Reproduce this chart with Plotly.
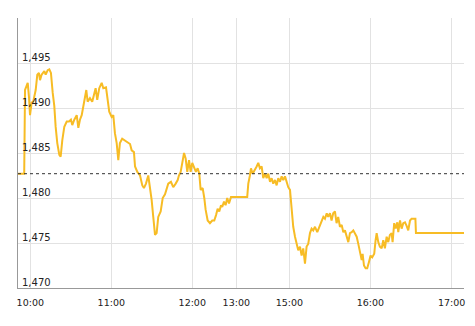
import plotly.graph_objects as go

# time axis in session-minutes (10:00 = 0, lunch break compressed)
minutes = [-9.1, -4.5, -3.9, -1.9, -1.0, -0.2, 1.0, 2.2, 4.0, 5.2, 6.4, 7.2, 8.4, 10.4, 11.4, 12.9, 14.1, 15.3,
           16.6, 17.8, 18.8, 20.0, 21.5, 22.5, 23.7, 25.2, 27.0, 28.7, 30.1, 31.1, 32.6, 34.4, 35.6, 36.8, 38.1,
           39.3, 40.5, 41.5, 42.5, 44.2, 45.9, 47.4, 48.4, 49.6, 51.1, 52.9, 54.1, 56.1, 57.0, 58.5, 60.3, 61.5,
           62.7, 64.0, 65.2, 66.4, 68.1, 70.1, 71.9, 73.9, 75.1, 76.8, 77.6, 79.3, 81.3, 83.0, 84.2, 85.7, 87.4,
           88.7, 89.9, 91.1, 92.4, 93.6, 94.8, 96.6, 98.1, 99.8, 102.2, 104.2, 105.9, 107.7, 109.2, 110.1, 111.4,
           112.6, 113.9, 115.1, 116.3, 117.6, 118.8, 120.0, 121.5, 122.7, 124.0, 125.2, 126.2, 127.7, 128.9,
           129.9, 131.4, 133.1, 134.8, 136.3, 137.6, 138.8, 140.0, 141.3, 142.2, 143.5, 144.7, 145.9, 147.2,
           148.7, 160.7, 161.5, 162.7, 163.5, 164.7, 166.4, 167.7, 168.9, 170.1, 171.4, 172.6, 173.9, 175.1,
           176.3, 177.6, 178.8, 180.0, 181.3, 182.5, 183.7, 185.0, 186.2, 187.4, 188.7, 189.9, 191.1, 192.4,
           193.6, 194.8, 196.1, 197.3, 198.5, 199.8, 201.0, 202.2, 203.5, 204.7, 205.9, 207.2, 208.4, 209.6,
           210.9, 212.6, 214.6, 215.9, 217.1, 218.3, 219.6, 220.7, 222.0, 223.2, 224.4, 225.7, 226.9, 228.1,
           229.4, 230.7, 231.9, 233.1, 234.4, 235.6, 236.8, 238.1, 239.3, 240.5, 241.8, 243.0, 244.2, 245.5,
           246.2, 247.2, 248.4, 249.6, 250.9, 252.1, 253.3, 254.8, 255.8, 256.6, 257.8, 259.0, 260.3, 261.5,
           262.7, 264.0, 265.2, 266.4, 267.7, 268.4, 269.6, 270.7, 271.9, 272.6, 273.9, 275.1, 276.3, 277.6,
           278.8, 280.0, 281.3, 282.5, 285.3, 285.7, 321.3]

price = [1482.7, 1482.7, 1492.0, 1492.8, 1491.3, 1489.2, 1490.6, 1490.7, 1492.0, 1493.7, 1493.9, 1493.1, 1493.7,
         1494.1, 1493.7, 1494.2, 1494.3, 1493.9, 1491.7, 1490.2, 1487.9, 1486.1, 1484.8, 1484.6, 1486.4, 1487.9,
         1488.5, 1488.5, 1488.7, 1488.1, 1488.7, 1489.2, 1487.8, 1488.7, 1489.2, 1490.2, 1491.1, 1492.0, 1490.7,
         1491.1, 1490.7, 1491.6, 1492.2, 1490.9, 1492.2, 1492.8, 1492.2, 1492.3, 1491.2, 1489.6, 1489.0, 1489.2,
         1487.2, 1486.1, 1484.2, 1486.1, 1486.6, 1486.4, 1486.3, 1486.0, 1485.3, 1485.1, 1483.5, 1482.9, 1482.5,
         1481.4, 1481.1, 1481.6, 1482.5, 1481.2, 1479.8, 1477.9, 1475.9, 1476.1, 1477.9, 1478.5, 1480.0, 1480.4,
         1481.6, 1481.8, 1481.2, 1481.6, 1482.0, 1482.5, 1482.9, 1483.9, 1485.0, 1484.4, 1482.9, 1484.2, 1482.9,
         1483.9, 1483.3, 1482.9, 1483.3, 1482.7, 1480.9, 1481.1, 1480.0, 1478.7, 1477.5, 1477.2, 1477.5, 1477.5,
         1478.1, 1478.8, 1478.5, 1479.2, 1479.0, 1479.6, 1479.2, 1480.0, 1479.4, 1480.1, 1480.1, 1481.6, 1482.5,
         1483.3, 1482.7, 1483.1, 1483.5, 1483.9, 1483.3, 1483.5, 1482.2, 1482.7, 1482.2, 1482.7, 1481.8, 1482.2,
         1481.6, 1482.0, 1481.4, 1482.2, 1481.8, 1482.4, 1482.0, 1482.4, 1481.8, 1481.2, 1480.9, 1479.0, 1476.8,
         1475.7, 1474.9, 1474.2, 1474.6, 1473.6, 1474.4, 1472.7, 1474.6, 1474.9, 1476.1, 1476.6, 1476.4, 1476.8,
         1476.2, 1477.0, 1477.5, 1477.9, 1477.7, 1478.3, 1477.9, 1478.3, 1477.5, 1478.3, 1478.5, 1477.2, 1477.9,
         1476.8, 1477.0, 1476.2, 1476.4, 1475.7, 1475.1, 1476.1, 1476.2, 1476.4, 1476.1, 1475.7, 1474.9, 1473.8,
         1473.1, 1473.8, 1472.5, 1472.2, 1472.2, 1472.9, 1473.6, 1473.4, 1473.8, 1475.3, 1476.1, 1475.1, 1474.6,
         1474.4, 1475.3, 1474.4, 1475.7, 1475.1, 1475.9, 1476.1, 1475.1, 1477.2, 1476.6, 1477.3, 1476.2, 1477.5,
         1476.6, 1477.2, 1477.3, 1476.9, 1476.4, 1477.5, 1477.7, 1477.7, 1476.1, 1476.1]

prev_close = 1482.7

tick_minutes = [0, 60, 120, 152.6, 191.9, 251.9, 312.2]
tick_labels = ["10:00", "11:00", "12:00", "13:00", "15:00", "16:00", "17:00"]
y_ticks = [1470, 1475, 1480, 1485, 1490, 1495]
y_labels = ["1,470", "1,475", "1,480", "1,485", "1,490", "1,495"]

fig = go.Figure()
fig.add_trace(go.Scatter(x=minutes, y=price, mode="lines",
                         line=dict(color="#F7BC25", width=2), hoverinfo="skip"))
fig.add_hline(y=prev_close, line=dict(color="#333333", width=1, dash="dot"))

xfont = dict(family="DejaVu Sans", size=9.5, color="#222222")
yfont = dict(family="DejaVu Sans", size=10, color="#222222")

for v, lab in zip(y_ticks, y_labels):
    fig.add_annotation(x=0, xref="paper", y=v, yref="y", text=lab, showarrow=False,
                       xanchor="left", yanchor="bottom", xshift=2, yshift=-2, font=yfont)

fig.update_layout(
    width=475, height=326,
    margin=dict(l=18, r=11, t=18, b=38),
    plot_bgcolor="white", paper_bgcolor="white",
    showlegend=False,
    xaxis=dict(range=[-9.1, 321.3], tickvals=tick_minutes, ticktext=tick_labels,
               showgrid=True, gridcolor="#e2e2e2", gridwidth=1,
               showline=True, linecolor="#999999", linewidth=1,
               ticks="", ticklabelstandoff=6, zeroline=False, tickfont=xfont),
    yaxis=dict(range=[1470, 1500], tickvals=y_ticks, showticklabels=False,
               showgrid=True, gridcolor="#e2e2e2", gridwidth=1,
               showline=True, linecolor="#999999", linewidth=1,
               ticks="", zeroline=False),
)

fig.write_html("out.html")
